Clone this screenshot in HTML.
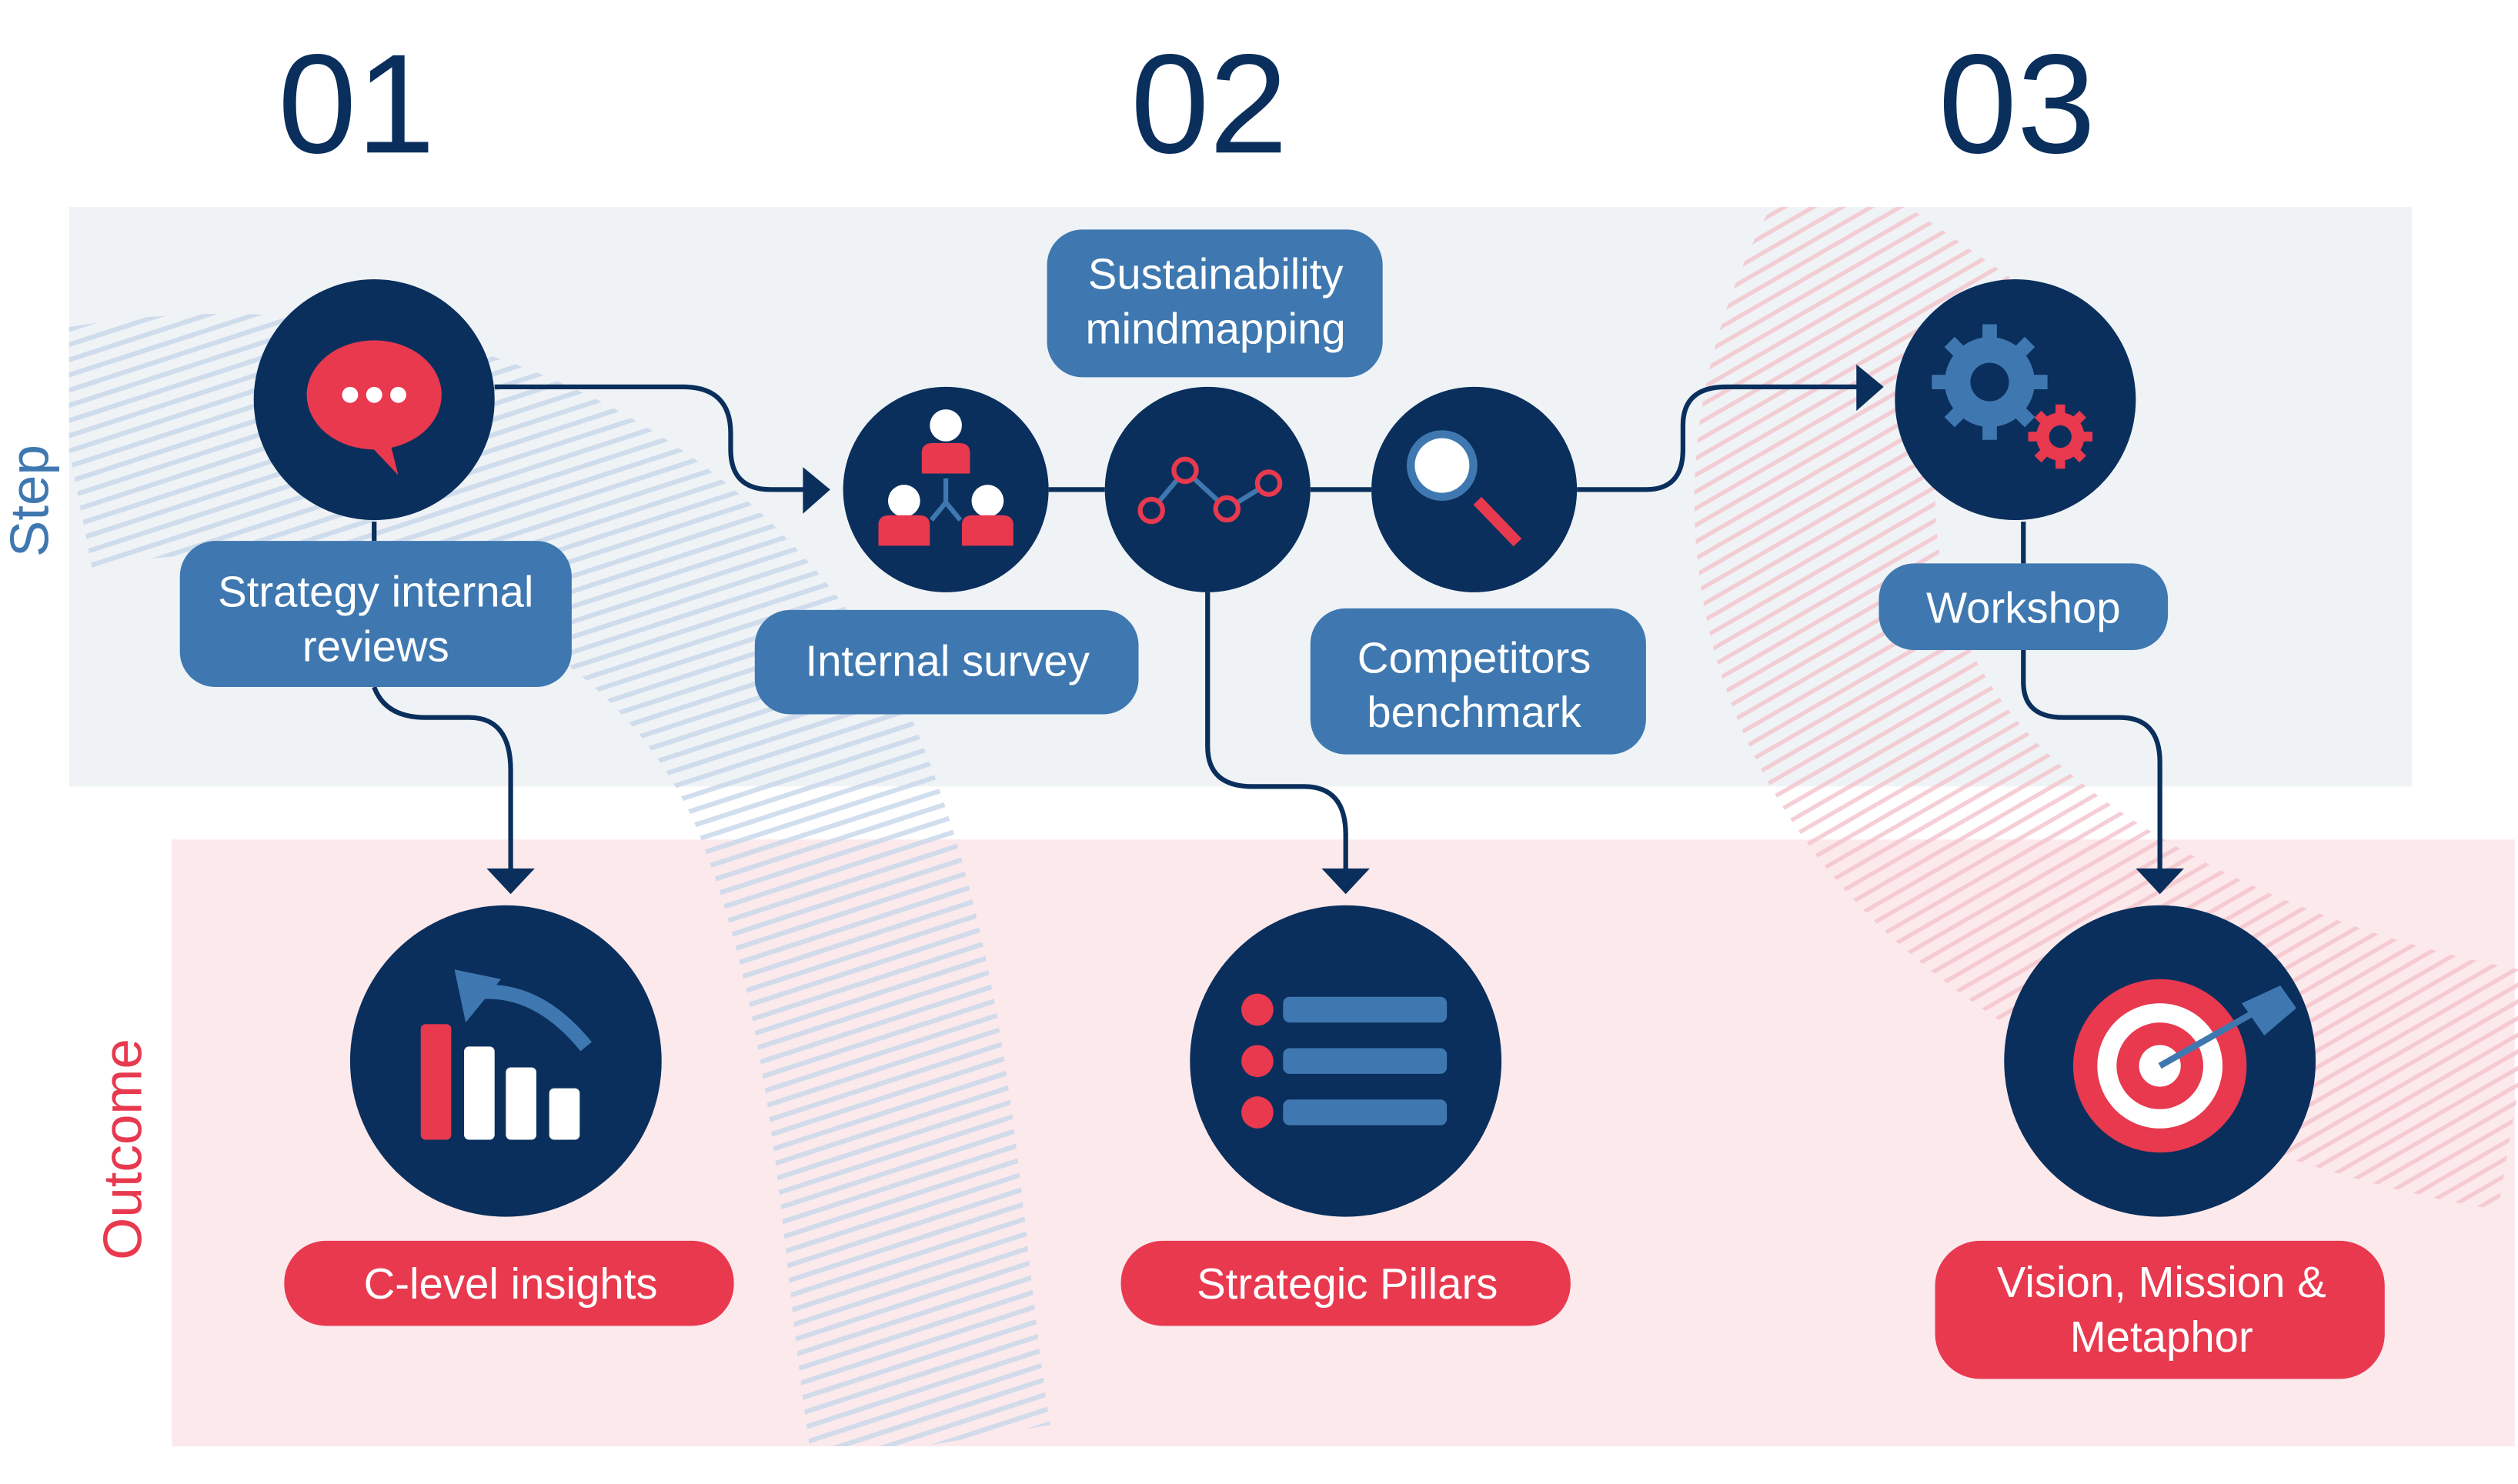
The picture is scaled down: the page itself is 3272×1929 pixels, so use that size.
<!DOCTYPE html>
<html><head><meta charset="utf-8"><style>
html,body{margin:0;padding:0;background:#fff}
svg{display:block}
text{font-family:"Liberation Sans",sans-serif}
</style></head><body>
<svg width="3272" height="1929" viewBox="0 0 1568 924.5" preserveAspectRatio="none" xmlns="http://www.w3.org/2000/svg">
<defs>
<pattern id="pb" width="9" height="9" patternUnits="userSpaceOnUse" patternTransform="rotate(-18)">
<rect width="9" height="3" fill="#c9d8ea"/></pattern>
<pattern id="pr" width="9" height="9" patternUnits="userSpaceOnUse" patternTransform="rotate(-30)">
<rect width="9" height="2.6" fill="#f3c3ca"/></pattern>
<clipPath id="cl"><rect x="43" y="129" width="1525" height="772"/></clipPath>
</defs>
<rect x="43" y="129" width="1459" height="361" fill="#eff3f6"/>
<rect x="107" y="523" width="1459" height="378" fill="#fce9ec"/>
<g clip-path="url(#cl)">
<path d="M43 280 C250 240 430 330 500 480 C560 620 560 780 580 900" stroke="url(#pb)" stroke-width="150" fill="none" opacity="0.85"/>
<path d="M1190 130 C1100 260 1110 420 1230 530 C1320 610 1450 660 1568 680" stroke="url(#pr)" stroke-width="150" fill="none" opacity="0.8"/>
</g>

<text x="222" y="95" font-size="88" fill="#0a2f5c" text-anchor="middle">01</text>
<text x="753" y="95" font-size="88" fill="#0a2f5c" text-anchor="middle">02</text>
<text x="1256" y="95" font-size="88" fill="#0a2f5c" text-anchor="middle">03</text>
<text transform="translate(30,312) rotate(-90)" font-size="34" fill="#3f78b0" text-anchor="middle">Step</text>
<text transform="translate(88,716) rotate(-90)" font-size="34" fill="#e8394f" text-anchor="middle">Outcome</text>

<g stroke="#0a2f5c" stroke-width="3" fill="none">
<path d="M308 241 H425 Q455 241 455 270 V280 Q455 305 480 305 H505"/>
<path d="M653 305 H688 M816 305 H854"/>
<path d="M982 305 H1025 Q1048 305 1048 280 V265 Q1048 241 1075 241 H1165"/>
<path d="M233 325 V337"/>
<path d="M233 428 Q240 447 265 447 H292 Q318 447 318 480 V545"/>
<path d="M752 369 V465 Q752 490 780 490 H812 Q838 490 838 520 V545"/>
<path d="M1260 325 V351"/>
<path d="M1260 405 V425 Q1260 447 1285 447 H1320 Q1345 447 1345 475 V545"/>
</g>
<g fill="#0a2f5c">
<path d="M500 291 L517 305 L500 320 Z"/>
<path d="M1156 227 L1173 241 L1156 256 Z"/>
<path d="M303 541 L333 541 L318 557 Z"/>
<path d="M823 541 L853 541 L838 557 Z"/>
<path d="M1330 541 L1360 541 L1345 557 Z"/>
<circle cx="233" cy="249" r="75"/>
<circle cx="589" cy="305" r="64"/>
<circle cx="752" cy="305" r="64"/>
<circle cx="918" cy="305" r="64"/>
<circle cx="1255" cy="249" r="75"/>
<circle cx="315" cy="661" r="97"/>
<circle cx="838" cy="661" r="97"/>
<circle cx="1345" cy="661" r="97"/>
</g>

<ellipse cx="233" cy="246" rx="42" ry="34" fill="#e8394f"/>
<path d="M228 275 L248 296 L242 272 Z" fill="#e8394f"/>
<circle cx="218" cy="246" r="5" fill="#fff"/><circle cx="233" cy="246" r="5" fill="#fff"/><circle cx="248" cy="246" r="5" fill="#fff"/>

<g fill="#e8394f"><circle cx="589" cy="265" r="10" fill="#fff"/><path d="M574 295 V282 Q574 276 581 276 H597 Q604 276 604 282 V295 Z"/>
<circle cx="563" cy="312" r="10" fill="#fff"/><path d="M547 340 V327 Q547 321 554 321 H572 Q579 321 579 327 V340 Z"/>
<circle cx="615" cy="312" r="10" fill="#fff"/><path d="M599 340 V327 Q599 321 606 321 H624 Q631 321 631 327 V340 Z"/></g>
<path d="M589 298 V313 M589 313 L580 324 M589 313 L598 324" stroke="#3f78b0" stroke-width="3" fill="none"/>

<path d="M717 318 L738 293 L764 317 L790 301" stroke="#3f78b0" stroke-width="3" fill="none"/>
<g fill="#0a2f5c" stroke="#e8394f" stroke-width="3"><circle cx="717" cy="318" r="7"/><circle cx="738" cy="293" r="7"/><circle cx="764" cy="317" r="7"/><circle cx="790" cy="301" r="7"/></g>

<line x1="920" y1="312" x2="945" y2="338" stroke="#e8394f" stroke-width="7"/>
<circle cx="898" cy="290" r="22" fill="#3f78b0"/><circle cx="898" cy="290" r="17" fill="#fff"/>

<g fill="#3f78b0"><circle cx="1239" cy="238" r="28"/>
<g stroke="#3f78b0" stroke-width="9"><path d="M1239 202 V274 M1203 238 H1275 M1214 213 L1264 263 M1264 213 L1214 263"/></g></g>
<circle cx="1239" cy="238" r="12" fill="#0a2f5c"/>
<g fill="#e8394f"><circle cx="1283" cy="272" r="15"/>
<g stroke="#e8394f" stroke-width="6"><path d="M1283 252 V292 M1263 272 H1303 M1269 258 L1297 286 M1297 258 L1269 286"/></g></g>
<circle cx="1283" cy="272" r="7" fill="#0a2f5c"/>

<rect x="262" y="638" width="19" height="72" rx="3" fill="#e8394f"/>
<rect x="289" y="652" width="19" height="58" rx="3" fill="#fff"/>
<rect x="315" y="665" width="19" height="45" rx="3" fill="#fff"/>
<rect x="342" y="678" width="19" height="32" rx="3" fill="#fff"/>
<path d="M365 652 Q335 615 298 618" stroke="#3f78b0" stroke-width="9" fill="none"/>
<path d="M283 604 L312 610 L290 637 Z" fill="#3f78b0"/>

<g fill="#e8394f"><circle cx="783" cy="629" r="10"/><circle cx="783" cy="661" r="10"/><circle cx="783" cy="693" r="10"/></g>
<g fill="#3f78b0"><rect x="799" y="621" width="102" height="16" rx="4"/><rect x="799" y="653" width="102" height="16" rx="4"/><rect x="799" y="685" width="102" height="16" rx="4"/></g>

<circle cx="1345" cy="664" r="54" fill="#e8394f"/><circle cx="1345" cy="664" r="39" fill="#fff"/>
<circle cx="1345" cy="664" r="27" fill="#e8394f"/><circle cx="1345" cy="664" r="13" fill="#fff"/>
<line x1="1345" y1="664" x2="1405" y2="630" stroke="#3f78b0" stroke-width="4"/>
<path d="M1396 625 L1420 614 L1430 628 L1410 645 Z" fill="#3f78b0"/>

<g fill="#3f78b0">
<rect x="112" y="337" width="244" height="91" rx="22"/>
<rect x="470" y="380" width="239" height="65" rx="22"/>
<rect x="652" y="143" width="209" height="92" rx="22"/>
<rect x="816" y="379" width="209" height="91" rx="22"/>
<rect x="1170" y="351" width="180" height="54" rx="22"/>
</g>
<g fill="#e8394f">
<rect x="177" y="773" width="280" height="53" rx="26"/>
<rect x="698" y="773" width="280" height="53" rx="26"/>
<rect x="1205" y="773" width="280" height="86" rx="28"/>
</g>
<g fill="#fff" font-size="27" text-anchor="middle">
<text x="234" y="378">Strategy internal</text><text x="234" y="412">reviews</text>
<text x="590" y="421">Internal survey</text>
<text x="757" y="180">Sustainability</text><text x="757" y="214">mindmapping</text>
<text x="918" y="419">Competitors</text><text x="918" y="453">benchmark</text>
<text x="1260" y="388">Workshop</text>
<text x="318" y="809">C-level insights</text>
<text x="839" y="809">Strategic Pillars</text>
<text x="1346" y="808">Vision, Mission &amp;</text><text x="1346" y="842">Metaphor</text>
</g>
</svg>
</body></html>
